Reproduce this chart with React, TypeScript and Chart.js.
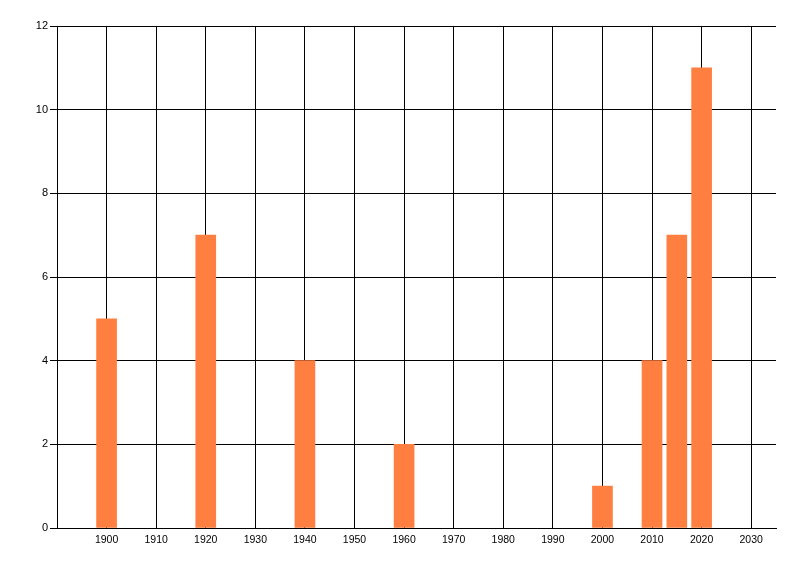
import React, { useEffect, useRef } from "react";
import { Chart, registerables } from "chart.js";

Chart.register(...registerables);

const years = [1900, 1920, 1940, 1960, 2000, 2010, 2015, 2020];
const counts = [5, 7, 4, 2, 1, 4, 7, 11];
const xTicks = [1900, 1910, 1920, 1930, 1940, 1950, 1960, 1970, 1980, 1990, 2000, 2010, 2020, 2030];
const yTicks = [0, 2, 4, 6, 8, 10, 12];

export default function App() {
  const ref = useRef<HTMLCanvasElement | null>(null);

  useEffect(() => {
    document.body.style.margin = "0";
    const ctx = ref.current!.getContext("2d")!;
    const chart = new Chart(ctx, {
      type: "bar",
      data: {
        datasets: [
          {
            data: years.map((y, i) => ({ x: y, y: counts[i] })),
            backgroundColor: "#ff7f40",
            borderWidth: 0,
            barThickness: 20,
          },
        ],
      },
      options: {
        animation: false,
        responsive: false,
        devicePixelRatio: 1,
        layout: { padding: { left: 0, top: 26, right: 24, bottom: 0 } },
        plugins: { legend: { display: false }, tooltip: { enabled: false } },
        scales: {
          x: {
            type: "linear",
            min: 1890,
            max: 2035,
            offset: false,
            afterBuildTicks: (s: any) => {
              s.ticks = xTicks.map((v) => ({ value: v }));
            },
            afterFit: (s: any) => {
              s.height = 48;
            },
            grid: { color: "#000", lineWidth: 1, drawTicks: false, offset: false },
            border: { color: "#000", width: 1 },
            ticks: {
              color: "#000",
              padding: 6,
              maxRotation: 0,
              autoSkip: false,
              font: { family: "Liberation Sans", size: 10.5 },
              callback: (v: any) => String(v),
            },
          },
          y: {
            min: 0,
            max: 12,
            afterBuildTicks: (s: any) => {
              s.ticks = yTicks.map((v) => ({ value: v }));
            },
            afterFit: (s: any) => {
              s.width = 57;
            },
            grid: { color: "#000", lineWidth: 1, tickLength: 7, drawTicks: true },
            border: { color: "#000", width: 1 },
            ticks: {
              color: "#000",
              padding: 2,
              font: { family: "Liberation Sans", size: 11 },
            },
          },
        },
      },
    } as any);
    return () => chart.destroy();
  }, []);

  return (
    <div style={{ width: 800, height: 576, background: "#fff" }}>
      <canvas ref={ref} width={800} height={576} style={{ display: "block" }} />
    </div>
  );
}
